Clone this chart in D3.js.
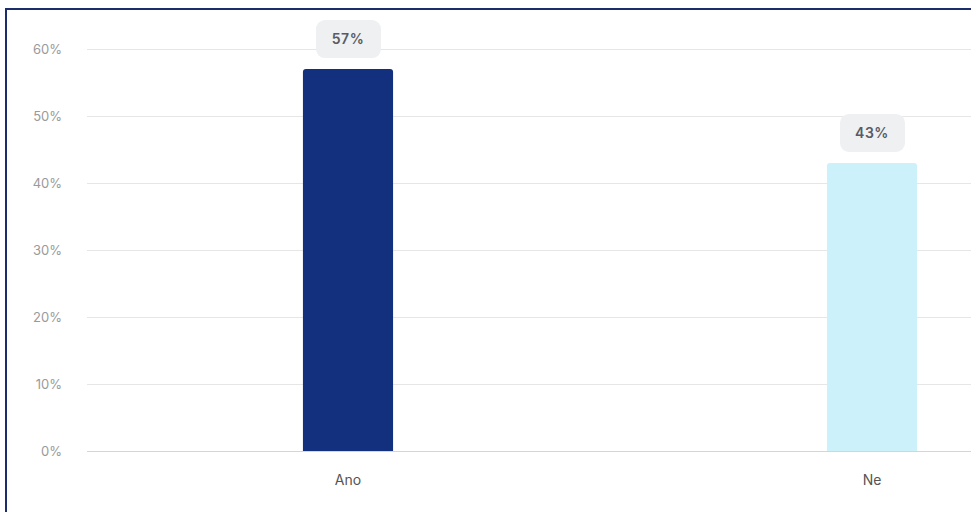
<!DOCTYPE html>
<html><head><meta charset="utf-8">
<script src="https://cdn.jsdelivr.net/npm/d3@7"></script>
<style>body{margin:0;background:#fff}svg{display:block;font-family:Inter,"Noto Sans",sans-serif}</style>
</head><body>
<svg id="c" width="971" height="512"></svg>
<script>
const categories = ["Ano", "Ne"];
const values = [57, 43];
const colors = ["#12307e", "#cdf1fa"];
const yTicks = [0, 10, 20, 30, 40, 50, 60];

const svg = d3.select("#c");
const W = 971, H = 512;
const y = d3.scaleLinear().domain([0, 60]).range([451, 49]);
const x = d3.scaleBand().domain(categories).range([86, 1134]).paddingInner(0.828).paddingOuter(0.414);

// frame
svg.append("path").attr("d", `M6,${H} V9 H${W}`).attr("fill","none").attr("stroke","#1b2d6b").attr("stroke-width",2);

// gridlines
svg.append("g").selectAll("line").data(yTicks.filter(d=>d>0)).join("line")
  .attr("x1",87).attr("x2",W).attr("y1",d=>Math.round(y(d))+0.5).attr("y2",d=>Math.round(y(d))+0.5)
  .attr("stroke","#e6e6e6").attr("stroke-width",1);

// y labels
svg.append("g").selectAll("text").data(yTicks).join("text")
  .attr("x",62).attr("y",d=>y(d)).attr("dy","0.35em").attr("text-anchor","end")
  .attr("fill","#9a9a9a").attr("font-size",13).text(d=>d+"%");

// bars with rounded top
const r = 3;
svg.append("g").selectAll("path").data(categories).join("path")
  .attr("d",(c,i)=>{const x0=x(c),w=x.bandwidth(),y0=y(values[i]),yb=y(0);
    return `M${x0},${yb} V${y0+r} Q${x0},${y0} ${x0+r},${y0} H${x0+w-r} Q${x0+w},${y0} ${x0+w},${y0+r} V${yb} Z`;})
  .attr("fill",(c,i)=>colors[i]);

// baseline
svg.append("line").attr("x1",87).attr("x2",W).attr("y1",451.5).attr("y2",451.5).attr("stroke","#ccd6eb");

// x labels
svg.append("g").selectAll("text").data(categories).join("text")
  .attr("x",c=>x(c)+x.bandwidth()/2).attr("y",480).attr("dy","0.35em").attr("text-anchor","middle")
  .attr("fill","#555").attr("font-size",14).text(c=>c);

// data label pills
const lab = svg.append("g").selectAll("g").data(categories).join("g")
  .attr("transform",(c,i)=>`translate(${x(c)+x.bandwidth()/2},${y(values[i])-30})`);
lab.append("rect").attr("x",-32).attr("y",-19).attr("width",65).attr("height",38).attr("rx",9)
  .attr("fill","#eef0f1");
lab.append("text").attr("text-anchor","middle").attr("dy","0.35em").attr("font-size",14)
  .attr("font-weight",600).attr("letter-spacing",0.5).attr("fill","#565b66").text((c,i)=>values[i]+"%");
</script>
</body></html>
